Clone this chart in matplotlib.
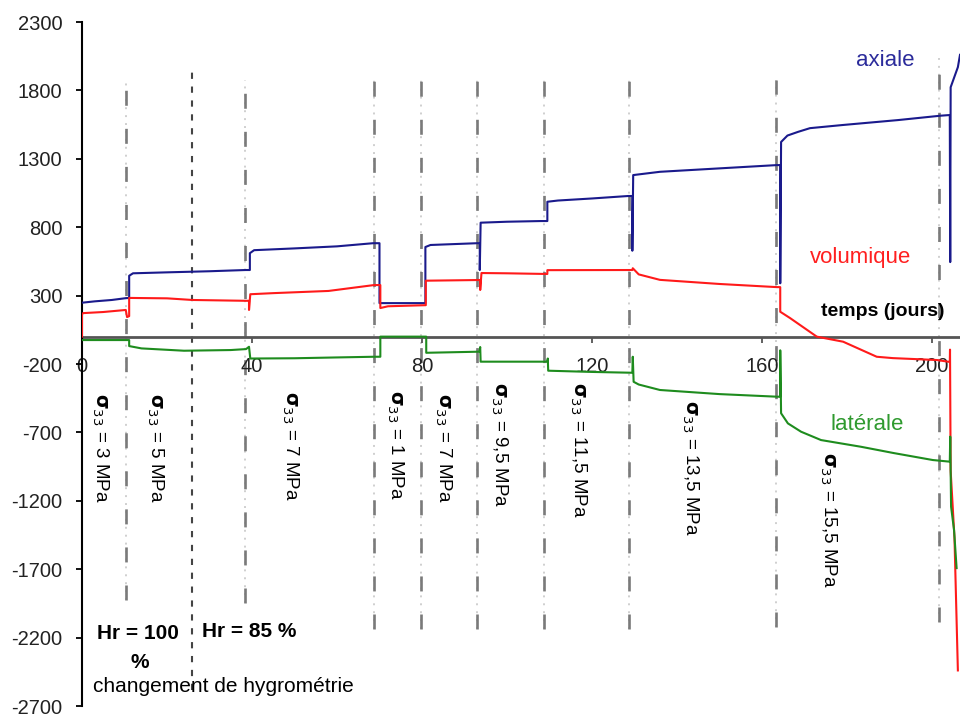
import matplotlib
matplotlib.use("Agg")
import matplotlib.pyplot as plt
import numpy as np

plt.rcParams['font.family'] = ['Liberation Sans', 'DejaVu Sans']
plt.rcParams['lines.scale_dashes'] = False
plt.rcParams['mathtext.fontset'] = 'dejavusans'

# ---------------- data ----------------
axial_days = [0, 3, 7, 10.5, 11.1, 11.1, 12, 20, 30, 38.5, 39.5, 39.5, 40.5, 50, 60, 68.5,
              70, 70, 80.8, 80.8, 82, 93, 93.6, 93.6, 93.8, 100, 108, 109.5, 109.5, 112,
              120, 128.5, 129.5, 129.5, 129.7, 136, 150, 163.5, 164.3, 164.3, 164.5, 166,
              168.5, 171.3, 179, 192, 202, 204.2, 204.3, 204.4, 206.1, 206.6]
axial_vals = [248, 258, 268, 282, 282, 445, 463, 470, 478, 487, 487, 610, 632, 645, 660, 683,
              683, 245, 245, 655, 670, 683, 683, 487, 833, 840, 845, 845, 986, 995,
              1010, 1028, 1028, 628, 1181, 1205, 1230, 1254, 1254, 390, 1423, 1470,
              1497, 1524, 1547, 1583, 1615, 1620, 545, 1823, 1970, 2060]

vol_days = [0, 0, 0.3, 5, 10.3, 10.6, 11.1, 11.1, 20, 26, 38.5, 39.3, 39.3, 39.6, 45, 58,
            68.7, 70.2, 70.2, 72, 80.9, 80.9, 93.7, 93.7, 94, 100, 109.5, 109.5, 129.5,
            129.6, 131, 136, 150, 163.5, 164.3, 164.3, 166.6, 172.9, 179.1, 187, 190.8,
            201.2, 204.2, 204.25, 204.4, 205.3, 206.1]
vol_vals = [0, 165, 172, 180, 195, 143, 150, 283, 280, 268, 262, 262, 195, 310, 318, 334,
            377, 377, 209, 222, 230, 409, 414, 341, 465, 463, 458, 486, 487,
            500, 455, 415, 385, 362, 362, 182, 136, 0, -37, -147, -157,
            -171, -185, -95, -980, -1470, -2440]

lat_days = [0, 11.1, 11.1, 14, 24, 35, 38.6, 39.3, 39.6, 50, 60, 68.7, 70.2, 70.2, 81, 81,
            93.5, 93.7, 93.8, 109.5, 109.6, 109.7, 120, 129.5, 129.6, 129.8, 131, 136, 150,
            163.5, 164.3, 164.3, 164.5, 166.1, 169.2, 173.9, 183.3, 191, 200.2, 204.2,
            204.3, 204.5, 205.2, 205.8]
lat_vals = [-25, -25, -69, -86, -103, -98, -91, -74, -160, -158, -152, -147, -147, 0, 0, -118,
            -110, -76, -183, -183, -160, -249, -258, -264, -147, -330, -350, -390, -420,
            -439, -439, -100, -560, -634, -695, -756, -805, -851, -902, -914,
            -731, -1243, -1414, -1692]

load_change_days = [10.35, 38.4, 68.7, 79.8, 93.0, 108.7, 128.7, 163.3, 201.6]
humidity_change_day = 25.9
stress_labels = ["3", "5", "7", "1", "7", "9,5", "11,5", "13,5", "15,5"]
x_ticks = [0, 40, 80, 120, 160, 200]
y_ticks = list(range(-2700, 2301, 500))

# ---------------- figure ----------------
fig = plt.figure(figsize=(9.6, 7.17), dpi=100)
ax = fig.add_axes([82 / 960, 11 / 717, 878 / 960, 684 / 717])
ax.set_xlim(0, 206.6)
ax.set_ylim(-2700, 2300)

# vertical load-change lines
line_tops = [1876, 1876, 1876, 1876, 1876, 1876, 1876, 1876, 2036]
line_bots = [-1925, -1950, -2140, -2140, -2140, -2140, -2140, -2120, -2085]
for d, yt, yb in zip(load_change_days, line_tops, line_bots):
    ax.plot([d, d], [yb, yt], color='#cccccc', lw=1.3, ls=(0, (1.4, 4.3)), zorder=1)
    ax.plot([d, d], [yb, yt], color='#7a7a7a', lw=1.9, ls=(0, (10.8, 16.6)), zorder=1)
ax.plot([humidity_change_day] * 2, [-2583, 1963], color='#444444', lw=1.5,
        ls=(0, (4.5, 5.5)), zorder=1)

# curves
ax.plot(axial_days, axial_vals, color='#1a1a8c', lw=1.5, zorder=3)
ax.plot(vol_days, vol_vals, color='#ff1a1a', lw=1.5, zorder=3)
ax.plot(lat_days, lat_vals, color='#1e8c1e', lw=1.5, zorder=3)

# axes styling
for s in ['top', 'right']:
    ax.spines[s].set_visible(False)
ax.spines['left'].set_color('black')
ax.spines['left'].set_linewidth(1.5)
ax.spines['bottom'].set_position(('data', 0))
ax.spines['bottom'].set_color('#555555')
ax.spines['bottom'].set_linewidth(2.0)
ax.spines['bottom'].set_zorder(2)

ax.set_yticks(y_ticks)
ax.set_yticklabels([str(v) for v in y_ticks])
ax.set_xticks(x_ticks)
ax.set_xticklabels([str(v) for v in x_ticks])
ax.tick_params(axis='y', direction='out', length=4, width=1.3, pad=10,
               labelsize=14.5, labelcolor='#222222')
ax.tick_params(axis='x', direction='out', length=4, width=1.3, color='#555555', pad=11,
               labelsize=14.5, labelcolor='#222222')

# curve labels
ax.text(188.9, 2022, "axiale", color='#2b2b9b', fontsize=16, ha='center', va='center')
ax.text(183.1, 582, "volumique", color='#ff2020', fontsize=16, ha='center', va='center')
ax.text(188.5, 187, "temps (jours)", color='black', fontsize=14, fontweight='bold',
        ha='center', va='center')
ax.text(184.7, -639, "latérale", color='#2f9a2f', fontsize=16, ha='center', va='center')

# stress labels (vertical)
label_x = [4.2, 17.2, 48.9, 73.6, 84.9, 98.1, 116.7, 143.1, 175.5]
label_y = [-811, -811, -800, -792, -811, -792, -829, -960, -1340]
for lx, ly, s in zip(label_x, label_y, stress_labels):
    ax.text(lx, ly, r"$\mathbf{\sigma}_{33}$ = " + s + " MPa", rotation=270,
            fontsize=13.5, ha='center', va='center', color='black')

# humidity texts
ax.text(13.1, -2167, "Hr = 100", fontsize=15, fontweight='bold', ha='center', va='center')
ax.text(13.6, -2379, "%", fontsize=15, fontweight='bold', ha='center', va='center')
ax.text(39.3, -2159, "Hr = 85 %", fontsize=15, fontweight='bold', ha='center', va='center')
ax.text(33.2, -2561, "changement de hygrométrie", fontsize=15, ha='center', va='center')

fig.savefig("out.png", dpi=100)
